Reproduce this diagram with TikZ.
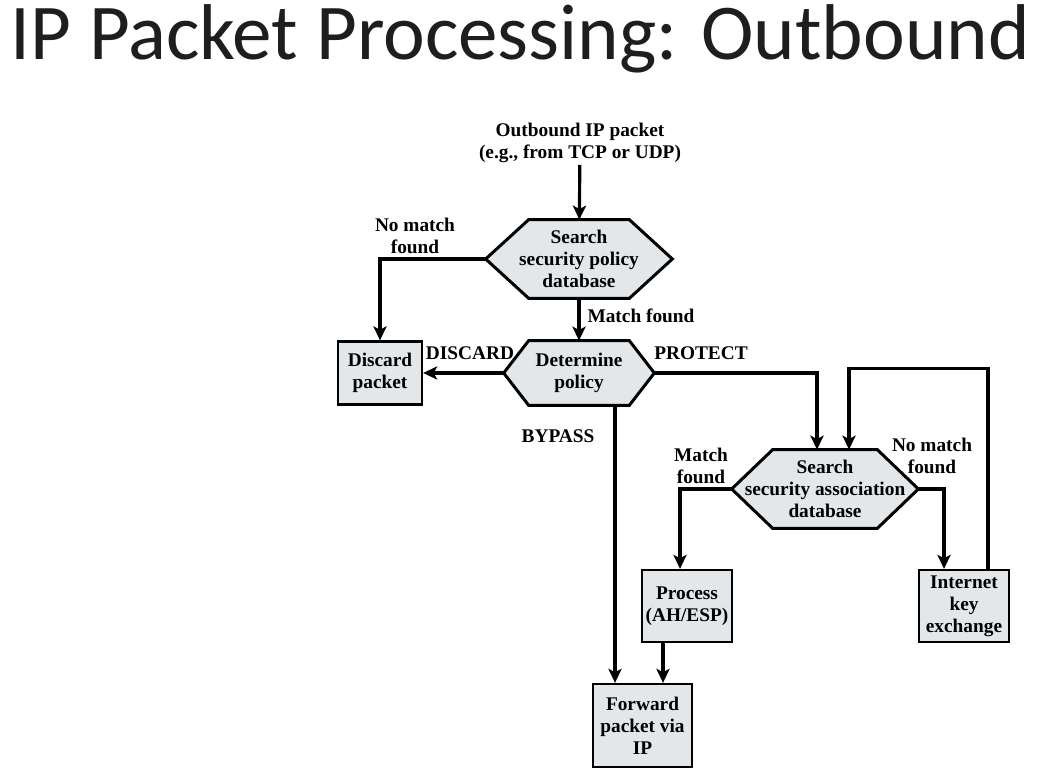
\documentclass[tikz,border=0pt]{standalone}
\usepackage{fontspec}
\setmainfont{Liberation Serif}
\newfontfamily\titlefont{Carlito}
\usetikzlibrary{arrows.meta,backgrounds}
\definecolor{boxgray}{HTML}{E4E7E9}
\definecolor{titlegray}{HTML}{1E1E1E}
\tikzset{
  lbl/.style={font=\fontsize{11}{12.5}\selectfont\bfseries, align=center, inner sep=1pt},
  hexnode/.style={font=\fontsize{11}{12.5}\selectfont\bfseries, align=center, inner sep=0pt},
  hexline/.style={draw, fill=boxgray, line width=1.7pt, line join=miter},
  procbox/.style={draw, fill=boxgray, line width=1.3pt, align=center, inner sep=0pt,
    font=\fontsize{11}{12.5}\selectfont\bfseries},
  flow/.style={line width=1.8pt, -{Stealth[length=8pt,width=7.5pt,inset=2pt]}},
}
% hexagon round a node: #1 node, #2 depth of the tips
\newcommand{\hexframe}[2]{%
  \begin{pgfonlayer}{background}
    \path[hexline] (#1.west) -- ([shift={(#2,0)}]#1.north west) -- ([shift={(-#2,0)}]#1.north east)
      -- (#1.east) -- ([shift={(-#2,0)}]#1.south east) -- ([shift={(#2,0)}]#1.south west) -- cycle;
  \end{pgfonlayer}}
\begin{document}
\begin{tikzpicture}[x=0.02cm, y=-0.02cm]
  \useasboundingbox (0,0) rectangle (1040,783);

  \node[font=\fontsize{45}{54}\titlefont, text=titlegray, anchor=base, inner sep=0pt] (title)
    at (520,60) {IP Packet Processing: Outbound};

  \node[lbl] (src) at (580,143) {Outbound IP packet\\(e.g., from TCP or UDP)};
  \node[hexnode, minimum width=3.72cm, minimum height=1.56cm] (spd) at (579,259)
    {Search\\security policy\\database};
  \node[hexnode, minimum width=3.0cm, minimum height=1.28cm] (pol) at (579,373) {Determine\\policy};
  \node[procbox, minimum width=1.68cm, minimum height=1.26cm] (discard) at (380,373) {Discard\\packet};
  \node[hexnode, minimum width=3.72cm, minimum height=1.56cm] (sad) at (825,489)
    {Search\\security association\\database};
  \node[procbox, minimum width=1.8cm, minimum height=1.44cm] (ahesp) at (687,606) {Process\\(AH/ESP)};
  \node[procbox, minimum width=1.8cm, minimum height=1.44cm] (ike) at (964,606) {Internet\\key\\exchange};
  \node[procbox, minimum width=1.98cm, minimum height=1.66cm] (fwd) at (642.5,725.5) {Forward\\packet via\\IP};

  \hexframe{spd}{43}
  \hexframe{pol}{25}
  \hexframe{sad}{41}

  \node[lbl] (nomatch1) at (415,236) {No match\\found};
  \node[lbl] (match1) at (641,316) {Match found};
  \node[lbl] (discardlbl) at (470,353) {DISCARD};
  \node[lbl] (protectlbl) at (701,353) {PROTECT};
  \node[lbl] (bypasslbl) at (558,436) {BYPASS};
  \node[lbl] (match2) at (701,466) {Match\\found};
  \node[lbl] (nomatch2) at (932,456) {No match\\found};

  \coordinate (bypass) at (615,405);
  \coordinate (ahout) at ([shift={(-24,0)}]ahesp.south);
  \coordinate (ikeout) at ([shift={(24,0)}]ike.north);

  \draw[flow] (src) -- (spd);
  \draw[flow] (spd.west) -| (discard.north);
  \draw[flow] (spd) -- (pol);
  \draw[flow] (pol.west) -- (discard.east);
  \draw[flow] (pol.east) -| ([shift={(-8,0)}]sad.north);
  \draw[flow] (bypass) -- (bypass |- fwd.north);
  \draw[flow] (sad.west) -| ([shift={(-7,0)}]ahesp.north);
  \draw[flow] (sad.east) -| ([shift={(-20,0)}]ike.north);
  \draw[flow] (ikeout) -- ++(0,-200) -| ([shift={(24,0)}]sad.north);
  \draw[flow] (ahout) -- (ahout |- fwd.north);
\end{tikzpicture}
\end{document}
